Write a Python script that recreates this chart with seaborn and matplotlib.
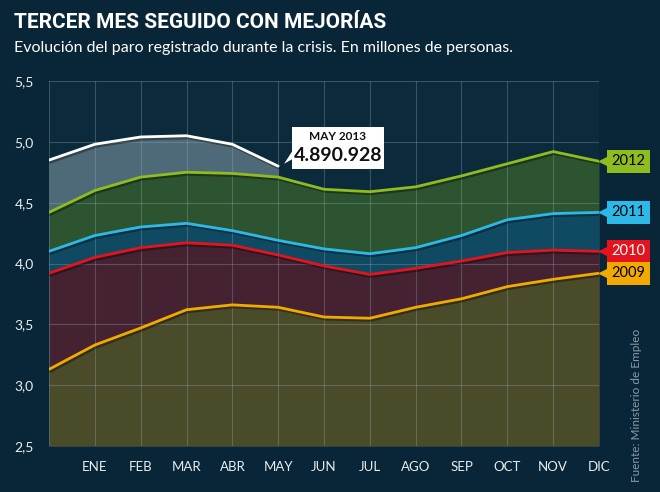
import pandas as pd
import matplotlib.pyplot as plt
import matplotlib.patheffects as pe
from matplotlib.patches import Rectangle, Polygon
import seaborn as sns

# Paro registrado (millones de personas); el primer punto es diciembre del año anterior
meses = ["", "ENE", "FEB", "MAR", "ABR", "MAY", "JUN", "JUL", "AGO", "SEP", "OCT", "NOV", "DIC"]
paro_2009 = [3.13, 3.33, 3.47, 3.62, 3.66, 3.64, 3.56, 3.55, 3.64, 3.71, 3.81, 3.87, 3.92]
paro_2010 = [3.92, 4.05, 4.13, 4.17, 4.15, 4.07, 3.98, 3.91, 3.96, 4.02, 4.09, 4.11, 4.10]
paro_2011 = [4.10, 4.23, 4.30, 4.33, 4.27, 4.19, 4.12, 4.08, 4.13, 4.23, 4.36, 4.41, 4.42]
paro_2012 = [4.42, 4.60, 4.71, 4.75, 4.74, 4.71, 4.61, 4.59, 4.63, 4.72, 4.82, 4.92, 4.84]
paro_2013 = [4.85, 4.98, 5.04, 5.05, 4.98, 4.80]
dato_destacado = "4.890.928"

series = {"2009": paro_2009, "2010": paro_2010, "2011": paro_2011,
          "2012": paro_2012, "2013": paro_2013}
colores_linea = {"2009": "#f2a900", "2010": "#e3141e", "2011": "#2cb9e8",
                 "2012": "#8fbc1e", "2013": "#ffffff"}
colores_area = {"2009": "#4a4b29", "2010": "#442231", "2011": "#0f4a62",
                "2012": "#2d5430", "2013": "#4e6977"}
colores_texto = {"2009": "black", "2010": "white", "2011": "black", "2012": "black"}

filas = []
for anio, valores in series.items():
    for i, v in enumerate(valores):
        filas.append({"anio": anio, "mes": i, "paro": v})
df = pd.DataFrame(filas)

sns.set_theme(style="dark")
plt.rcParams["font.family"] = ["Lato", "DejaVu Sans"]

fondo = "#082637"
fig = plt.figure(figsize=(6.6, 4.92), dpi=100, facecolor=fondo)
ax = fig.add_axes([49 / 660, 46 / 492, 550 / 660, 365 / 492])
ax.set_facecolor("#0b2b3c")

# Areas, de la mas alta a la mas baja
for anio in ["2013", "2012", "2011", "2010", "2009"]:
    d = df[df["anio"] == anio]
    ax.fill_between(d["mes"], d["paro"], 2.5, color=colores_area[anio], lw=0, zorder=1)

sombra = [pe.SimpleLineShadow(offset=(1, -1.5), alpha=0.35, shadow_color="black"), pe.Normal()]
sns.lineplot(data=df, x="mes", y="paro", hue="anio", palette=colores_linea, lw=2,
             legend=False, ax=ax, zorder=3, path_effects=sombra)

ax.set_xlim(0, 12)
ax.set_ylim(2.5, 5.5)
ax.set_xticks(range(13))
ax.set_xticklabels(meses)
yt = [2.5, 3.0, 3.5, 4.0, 4.5, 5.0, 5.5]
ax.set_yticks(yt)
ax.set_yticklabels([f"{v:.1f}".replace(".", ",") for v in yt])
ax.set_xlabel("")
ax.set_ylabel("")
for s in ax.spines.values():
    s.set_visible(False)
ax.set_axisbelow(False)
ax.grid(True, color="#9fb3bd", alpha=0.3, lw=0.8, zorder=2)
ax.tick_params(axis="x", length=5, width=0.8, color="#4f6a78", pad=6,
               labelsize=9.5, labelcolor="#e8eef0")
ax.tick_params(axis="y", length=7, width=0.8, color="#4f6a78", pad=4,
               labelsize=10, labelcolor="#e8eef0")

# Etiquetas de año a la derecha
for anio in ["2012", "2011", "2010", "2009"]:
    y = series[anio][-1]
    ax.plot([12.1], [y], marker="<", ms=7, color=colores_linea[anio], clip_on=False, zorder=4)
    ax.text(12.27, y, anio, ha="left", va="center", fontsize=10.5, color=colores_texto[anio],
            clip_on=False, zorder=5,
            bbox=dict(boxstyle="square,pad=0.32", fc=colores_linea[anio], ec="none"))

# Recuadro del dato de mayo 2013
ax.add_patch(Rectangle((5.3, 4.78), 2.0, 0.34, fc="white", ec="none", zorder=6))
ax.add_patch(Polygon([(5.32, 4.93), (5.32, 4.86), (5.13, 4.82)], closed=True,
                     fc="white", ec="none", zorder=6))
ax.text(6.3, 5.04, "MAY 2013", ha="center", va="center", fontsize=8.5,
        fontweight="bold", color="#111111", zorder=7)
ax.text(6.3, 4.89, dato_destacado, ha="center", va="center", fontsize=14,
        fontweight="bold", color="#111111", zorder=7)

fig.text(14 / 660, 1 - 22 / 492, "TERCER MES SEGUIDO CON MEJORÍAS", ha="left", va="center",
         fontsize=15, fontweight="bold", color="white",
         family=["Liberation Sans Narrow", "Roboto", "DejaVu Sans"])
fig.text(14 / 660, 1 - 48 / 492, "Evolución del paro registrado durante la crisis. En millones de personas.",
         ha="left", va="center", fontsize=11.5, color="white")
fig.text(637 / 660, 1 - 405 / 492, "Fuente: Ministerio de Empleo", rotation=90, ha="center",
         va="center", fontsize=8.5, color="#8a9ba5")

plt.savefig("out.png", dpi=100, facecolor=fondo)
